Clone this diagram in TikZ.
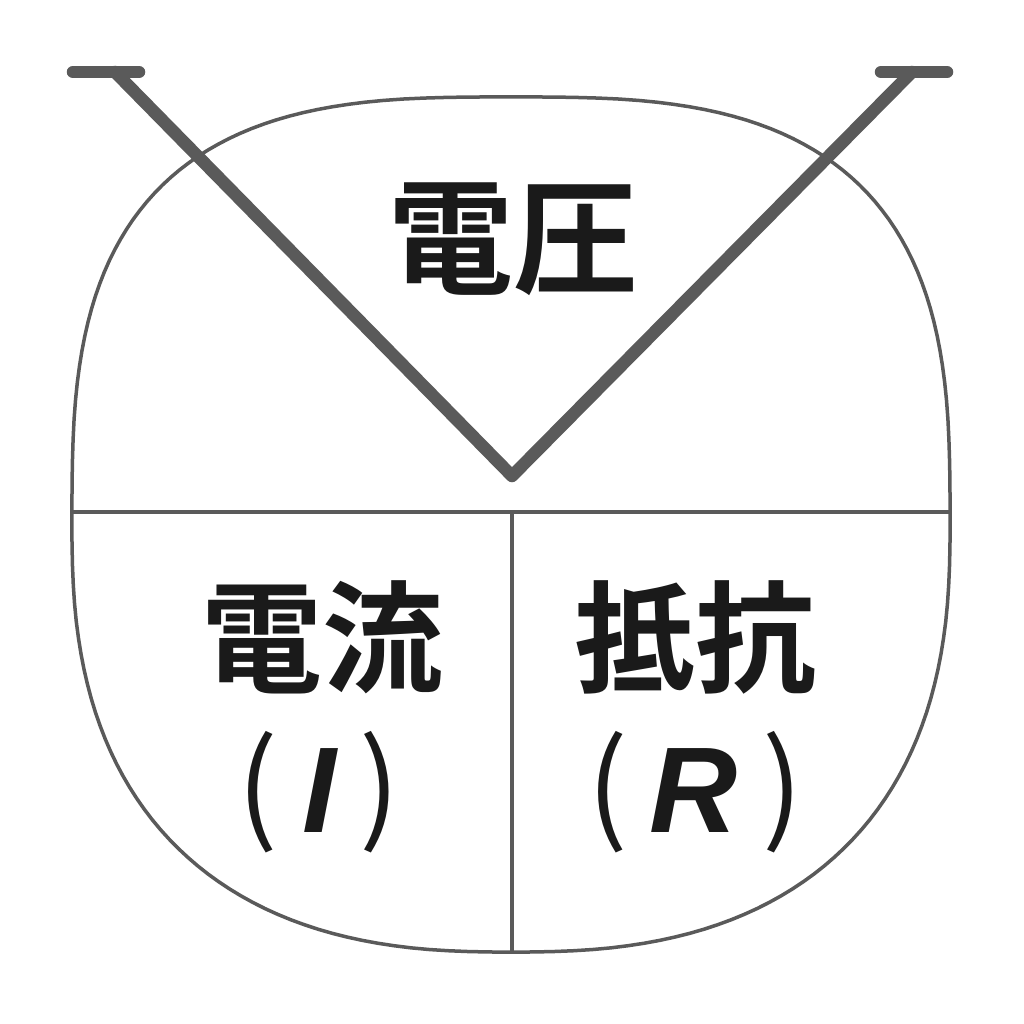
\documentclass[tikz,border=0pt]{standalone}
\usepackage{fontspec}
\newfontfamily\cjk{Noto Sans CJK JP}[BoldFont={* Bold}]
\newfontfamily\latin{Liberation Sans}
\begin{document}
\begin{tikzpicture}[x=1pt,y=-1pt]
\definecolor{linegray}{HTML}{5A5A5A}
\definecolor{ink}{HTML}{1A1A1A}
\tikzset{
  outline/.style={draw=linegray, line width=3.5pt},
  vstroke/.style={draw=linegray, line width=12.5pt, line cap=round, line join=round},
  bigtxt/.style={text=ink, inner sep=0pt, font=\cjk\bfseries\fontsize{125}{125}\selectfont},
  midtxt/.style={text=ink, inner sep=0pt, font=\cjk\bfseries\fontsize{121}{121}\selectfont},
  paren/.style={text=ink, inner sep=0pt, font=\cjk\fontsize{120}{120}\selectfont},
  symb/.style={text=ink, inner sep=0pt, font=\latin\bfseries\itshape\fontsize{122}{122}\selectfont}
}
\useasboundingbox (0,0) rectangle (1024,1024);
\fill[white] (0,0) rectangle (1024,1024);
% squircle outline: upper half exponent 3, lower half exponent 2.5
\draw[outline] plot[domain=1:179, samples=90]
  ({511+439*sign(cos(\x))*pow(abs(cos(\x)),2/3)},
   {524-427*pow(abs(sin(\x)),2/3)})
  -- plot[domain=181:359, samples=90]
  ({511+439*sign(cos(\x))*pow(abs(cos(\x)),0.8)},
   {524+428*pow(abs(sin(\x)),0.8)}) -- cycle;
% dividers
\coordinate (hl) at (72,512);
\coordinate (hr) at (950,512);
\coordinate (vt) at (512,512);
\coordinate (vb) at (512,952);
\draw[outline] (hl) -- (hr);
\draw[outline] (vt) -- (vb);
% V symbol
\coordinate (lb1) at (73,72);
\coordinate (lb2) at (139,72);
\coordinate (ltop) at (115,72);
\coordinate (tip) at (512,476);
\coordinate (rtop) at (912,72);
\coordinate (rb1) at (881,72);
\coordinate (rb2) at (947,72);
\draw[vstroke] (lb1) -- (lb2);
\draw[vstroke] (rb1) -- (rb2);
\draw[vstroke] (ltop) -- (tip) -- (rtop);
% texts
\node[bigtxt] (volt) at (513,239) {電圧};
\node[midtxt] (cur) at (322,637) {電流};
\node[midtxt] (res) at (695,637) {抵抗};
\node[paren] (lpI) at (258,792) {(};
\node[symb] (symI) at (319,791) {I};
\node[paren] (rpI) at (380,792) {)};
\node[paren] (lpR) at (608,792) {(};
\node[symb] (symR) at (694,791) {R};
\node[paren] (rpR) at (783,792) {)};
\end{tikzpicture}
\end{document}
